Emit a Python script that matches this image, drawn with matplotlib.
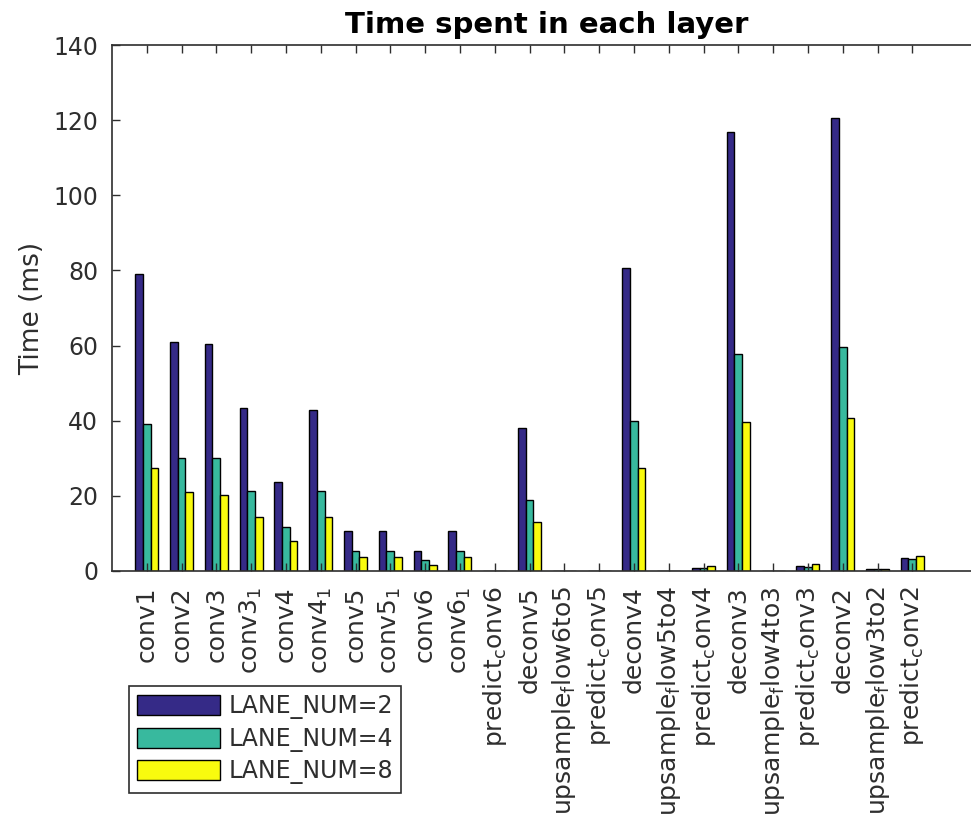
import numpy as np
import matplotlib
matplotlib.use("Agg")
import matplotlib.pyplot as plt

plt.rcParams['font.family'] = ['DejaVu Sans']
plt.rcParams['mathtext.default'] = 'regular'

layers = ["conv1", "conv2", "conv3", "conv3_1", "conv4", "conv4_1", "conv5",
          "conv5_1", "conv6", "conv6_1", "predict_conv6", "deconv5",
          "upsample_flow6to5", "predict_conv5", "deconv4", "upsample_flow5to4",
          "predict_conv4", "deconv3", "upsample_flow4to3", "predict_conv3",
          "deconv2", "upsample_flow3to2", "predict_conv2"]

lane2 = [79.0, 61.0, 60.4, 43.5, 23.8, 42.9, 10.7, 10.7, 5.4, 10.7, 0.1, 38.0,
         0.1, 0.1, 80.6, 0.1, 0.9, 116.9, 0.1, 1.3, 120.7, 0.5, 3.4]
lane4 = [39.1, 30.0, 30.0, 21.4, 11.8, 21.4, 5.4, 5.4, 2.9, 5.4, 0.1, 18.9,
         0.1, 0.1, 40.0, 0.1, 0.9, 57.7, 0.1, 1.0, 59.7, 0.5, 3.3]
lane8 = [27.3, 20.9, 20.3, 14.5, 8.1, 14.5, 3.8, 3.8, 1.7, 3.8, 0.1, 13.0,
         0.1, 0.1, 27.3, 0.1, 1.3, 39.6, 0.1, 1.9, 40.6, 0.4, 3.9]

series = [("LANE_NUM=2", lane2, "#352a87"),
          ("LANE_NUM=4", lane4, "#38b99e"),
          ("LANE_NUM=8", lane8, "#f9fb0e")]


def tex_label(name):
    # mimic MATLAB's tex interpreter: "_x" makes x a subscript
    out = ""
    i = 0
    while i < len(name):
        if name[i] == "_" and i + 1 < len(name):
            out += "$_{" + name[i + 1] + "}$"
            i += 2
        else:
            out += name[i]
            i += 1
    return out


txt = "#2e2e2e"
fig = plt.figure(figsize=(9.71, 8.22), dpi=100)
unit = 34.8 / 971
ax = fig.add_axes([111.9 / 971, 1 - 571 / 822, 25 * unit, 526 / 822])

x = np.arange(1, len(layers) + 1)
w = 0.22
handles = []
for k, (name, vals, col) in enumerate(series):
    b = ax.bar(x + (k - 1) * w, vals, width=w, color=col, edgecolor="black",
               linewidth=1.0, label=name)
    handles.append(b)

ax.set_xlim(0, 25)
ax.set_ylim(0, 140)
ax.set_yticks(np.arange(0, 141, 20))
ax.set_xticks(x)
ax.set_xticklabels([tex_label(n) for n in layers], rotation=90,
                   fontsize=18, color=txt)
ax.tick_params(axis="y", labelsize=17, labelcolor=txt, pad=10)
ax.tick_params(axis="x", pad=11)
ax.tick_params(direction="in", length=6, width=1, color=txt,
               top=True, right=True)
for s in ax.spines.values():
    s.set_color(txt)
    s.set_linewidth(1.2)

ax.set_ylabel("Time (ms)", fontsize=19, color=txt, labelpad=6)
ax.set_title("Time spent in each layer", fontsize=21, fontweight="bold",
             color="black", pad=9)

leg = fig.legend(handles=handles, loc="upper left",
                 bbox_to_anchor=(129 / 971, 1 - 686 / 822),
                 borderaxespad=0,
                 fontsize=17, handlelength=3.5, handleheight=0.95,
                 labelspacing=0.32, borderpad=0.35, handletextpad=0.35,
                 fancybox=False, framealpha=1)
leg.get_frame().set_edgecolor(txt)
leg.get_frame().set_linewidth(1.2)
for t in leg.get_texts():
    t.set_color(txt)

fig.savefig("out.png", dpi=100)
